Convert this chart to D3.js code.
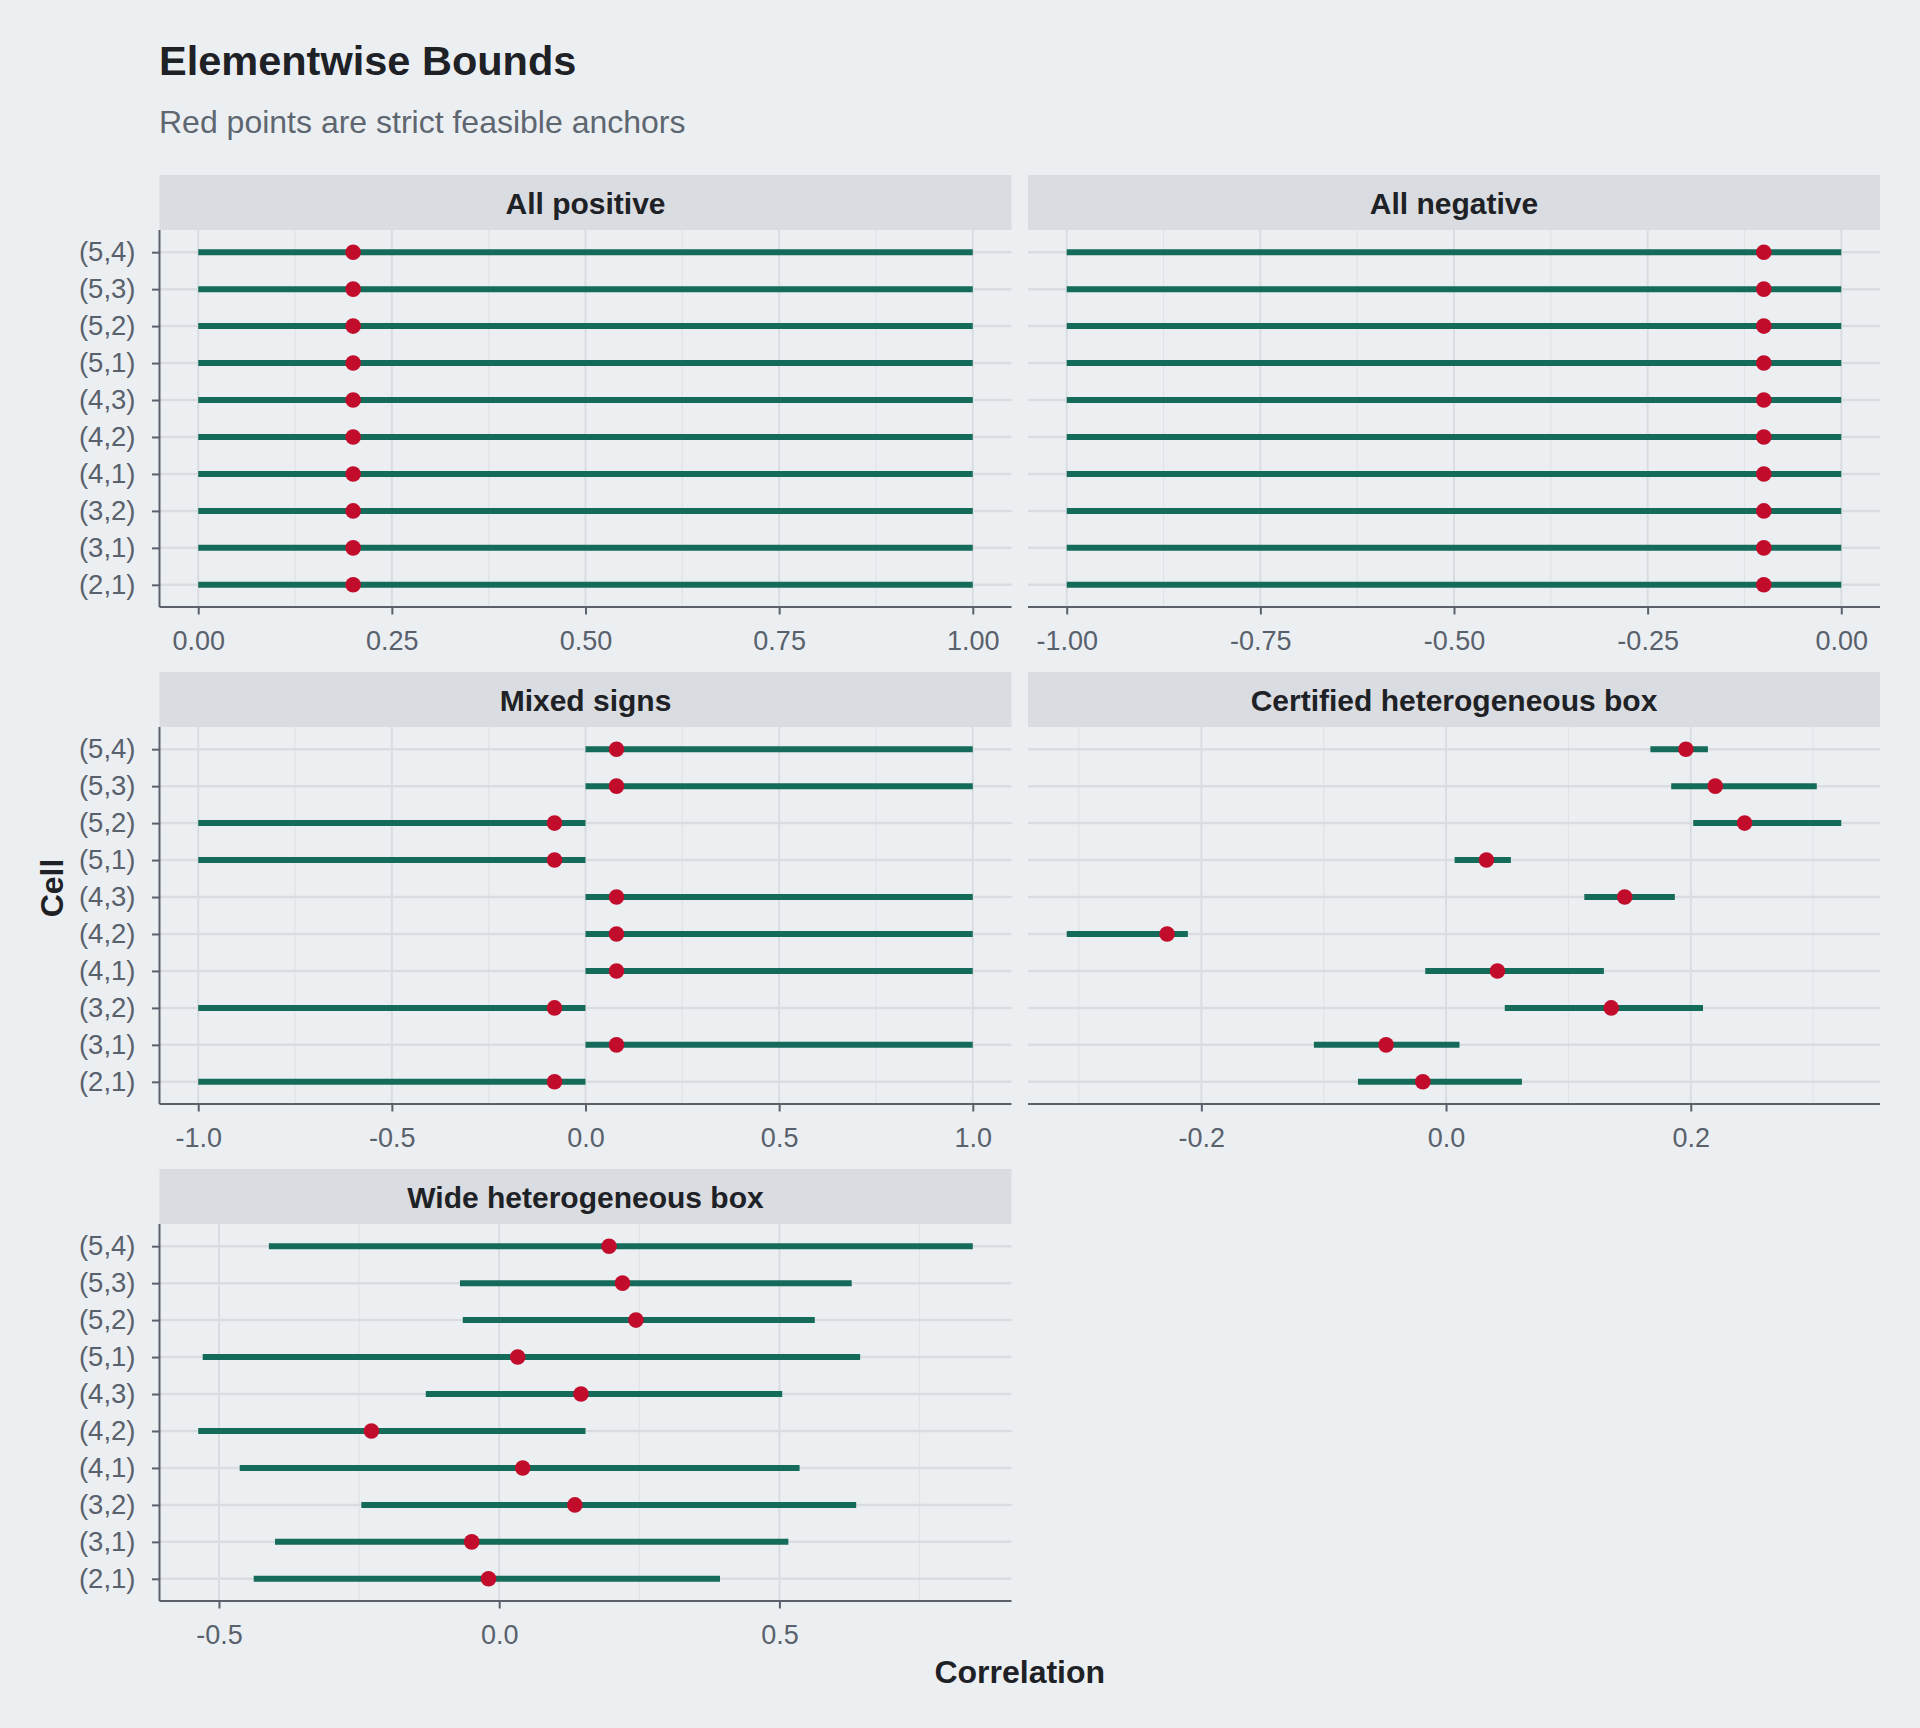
<!DOCTYPE html>
<html>
<head>
<meta charset="utf-8">
<script src="https://cdn.jsdelivr.net/npm/d3@7"></script>
<style>
  body { margin: 0; background: #ECEFF2; }
  svg { display: block; font-family: "Liberation Sans", Arial, Helvetica, sans-serif; }
</style>
</head>
<body>
<svg id="chart"></svg>
<script>
// cells, bottom to top
const cells = ["(2,1)", "(3,1)", "(3,2)", "(4,1)", "(4,2)", "(4,3)", "(5,1)", "(5,2)", "(5,3)", "(5,4)"];

const panelTitles = ["All positive", "All negative", "Mixed signs", "Certified heterogeneous box", "Wide heterogeneous box"];

// bounds per panel, same order as cells
const posLower = [0, 0, 0, 0, 0, 0, 0, 0, 0, 0];
const posUpper = [1, 1, 1, 1, 1, 1, 1, 1, 1, 1];
const posAnchor = [0.2, 0.2, 0.2, 0.2, 0.2, 0.2, 0.2, 0.2, 0.2, 0.2];

const negLower = [-1, -1, -1, -1, -1, -1, -1, -1, -1, -1];
const negUpper = [0, 0, 0, 0, 0, 0, 0, 0, 0, 0];
const negAnchor = [-0.1, -0.1, -0.1, -0.1, -0.1, -0.1, -0.1, -0.1, -0.1, -0.1];

const mixLower = [-1, 0, -1, 0, 0, 0, -1, -1, 0, 0];
const mixUpper = [0, 1, 0, 1, 1, 1, 0, 0, 1, 1];
const mixAnchor = [-0.08, 0.08, -0.08, 0.08, 0.08, 0.08, -0.08, -0.08, 0.08, 0.08];

const certLower = [-0.072, -0.108, 0.048, -0.017, -0.310, 0.113, 0.007, 0.202, 0.184, 0.167];
const certUpper = [0.062, 0.011, 0.210, 0.129, -0.211, 0.187, 0.053, 0.323, 0.303, 0.214];
const anchor = [-0.019, -0.049, 0.135, 0.042, -0.228, 0.146, 0.033, 0.244, 0.220, 0.196];

const wideLower = [-0.438, -0.400, -0.246, -0.463, -0.537, -0.131, -0.529, -0.065, -0.070, -0.411];
const wideUpper = [0.394, 0.516, 0.637, 0.536, 0.154, 0.505, 0.644, 0.563, 0.629, 0.845];

// tick labels per panel
const posTicks = [0, 0.25, 0.5, 0.75, 1];
const negTicks = [-1, -0.75, -0.5, -0.25, 0];
const mixTicks = [-1, -0.5, 0, 0.5, 1];
const certTicks = [-0.2, 0, 0.2];
const wideTicks = [-0.5, 0, 0.5];

const panels = [
  { title: panelTitles[0], lo: posLower, hi: posUpper, pt: posAnchor, ticks: posTicks, fmt: ".2f", col: 0, row: 0 },
  { title: panelTitles[1], lo: negLower, hi: negUpper, pt: negAnchor, ticks: negTicks, fmt: ".2f", col: 1, row: 0 },
  { title: panelTitles[2], lo: mixLower, hi: mixUpper, pt: mixAnchor, ticks: mixTicks, fmt: ".1f", col: 0, row: 1 },
  { title: panelTitles[3], lo: certLower, hi: certUpper, pt: anchor, ticks: certTicks, fmt: ".1f", col: 1, row: 1 },
  { title: panelTitles[4], lo: wideLower, hi: wideUpper, pt: anchor, ticks: wideTicks, fmt: ".1f", col: 0, row: 2 }
];

const W = 1920, H = 1728;
const colX = [159.5, 1028], panelW = 852;
const rowY = [175, 672, 1169], stripH = 55, panelH = 377;

const ink = "#1E2125", tickInk = "#59616C", axisInk = "#5A616B";
const green = "#156B5A", red = "#C10C2C";

const svg = d3.select("#chart").attr("width", W).attr("height", H);
svg.append("rect").attr("width", W).attr("height", H).attr("fill", "#ECEFF2");

svg.append("text").attr("x", 159).attr("y", 75)
  .attr("font-size", 41.5).attr("font-weight", "bold").attr("fill", ink)
  .text("Elementwise Bounds");
svg.append("text").attr("x", 159).attr("y", 132.5)
  .attr("font-size", 32).attr("fill", "#5E6670")
  .text("Red points are strict feasible anchors");

for (const p of panels) {
  const x0 = colX[p.col], top = rowY[p.row];
  const g = svg.append("g").attr("transform", `translate(${x0},${top})`);

  // strip
  g.append("rect").attr("width", panelW).attr("height", stripH).attr("fill", "#D9DCE0");
  g.append("text").attr("x", panelW / 2).attr("y", stripH / 2 + 11)
    .attr("text-anchor", "middle").attr("font-size", 30).attr("font-weight", "bold")
    .attr("fill", ink).text(p.title);

  const pg = g.append("g").attr("transform", `translate(0,${stripH})`);

  const lo = d3.min(p.lo), hi = d3.max(p.hi);
  const pad = (hi - lo) * 0.05;
  const x = d3.scaleLinear().domain([lo - pad, hi + pad]).range([0, panelW]);
  const y = d3.scalePoint().domain(cells.slice().reverse()).range([0, panelH]).padding(0.6);

  // grid: minor between major ticks
  const step = p.ticks[1] - p.ticks[0];
  const minor = [];
  for (let v = p.ticks[0] - step / 2; v <= x.domain()[1]; v += step)
    if (v >= x.domain()[0]) minor.push(v);
  pg.append("g").selectAll("line").data(minor).join("line")
    .attr("x1", d => x(d)).attr("x2", d => x(d)).attr("y1", 0).attr("y2", panelH)
    .attr("stroke", "#E0E3E6").attr("stroke-width", 1.2);
  pg.append("g").selectAll("line").data(p.ticks).join("line")
    .attr("x1", d => x(d)).attr("x2", d => x(d)).attr("y1", 0).attr("y2", panelH)
    .attr("stroke", "#D9DCE0").attr("stroke-width", 2);
  pg.append("g").selectAll("line").data(cells).join("line")
    .attr("x1", 0).attr("x2", panelW).attr("y1", d => y(d)).attr("y2", d => y(d))
    .attr("stroke", "#D9DCE0").attr("stroke-width", 2.5);

  const rows = cells.map((c, i) => ({ c, lo: p.lo[i], hi: p.hi[i], pt: p.pt[i] }));
  pg.append("g").selectAll("line").data(rows).join("line")
    .attr("x1", d => x(d.lo)).attr("x2", d => x(d.hi))
    .attr("y1", d => y(d.c)).attr("y2", d => y(d.c))
    .attr("stroke", green).attr("stroke-width", 6);
  pg.append("g").selectAll("circle").data(rows).join("circle")
    .attr("cx", d => x(d.pt)).attr("cy", d => y(d.c)).attr("r", 7.8)
    .attr("fill", red);

  // bottom axis
  const xa = pg.append("g").attr("transform", `translate(0,${panelH})`)
    .call(d3.axisBottom(x).tickValues(p.ticks).tickFormat(d3.format(p.fmt)).tickSize(7.5).tickPadding(16));
  xa.select(".domain").attr("stroke", axisInk).attr("stroke-width", 2).attr("d", `M0,0H${panelW}`);
  xa.selectAll(".tick line").attr("stroke", axisInk).attr("stroke-width", 2);
  xa.selectAll(".tick text").attr("fill", tickInk).attr("font-size", 27)
    .attr("font-family", "Liberation Sans, Arial, sans-serif")
    .text(function (d) { return d3.format(p.fmt)(d).replace("−", "-"); });

  // left axis only on the first column
  if (p.col === 0) {
    const ya = pg.append("g").call(d3.axisLeft(y).tickSize(7.5).tickPadding(16.5));
    ya.select(".domain").attr("stroke", axisInk).attr("stroke-width", 2).attr("d", `M0,0V${panelH}`);
    ya.selectAll(".tick line").attr("stroke", axisInk).attr("stroke-width", 2);
    ya.selectAll(".tick text").attr("fill", tickInk).attr("font-size", 27.5)
      .attr("font-family", "Liberation Sans, Arial, sans-serif");
  }
}

// axis titles
svg.append("text").attr("x", (colX[0] + colX[1] + panelW) / 2).attr("y", 1683)
  .attr("text-anchor", "middle").attr("font-size", 32).attr("font-weight", "bold")
  .attr("fill", ink).text("Correlation");
svg.append("text").attr("transform", `translate(63,${(rowY[0] + rowY[2] + stripH + panelH) / 2}) rotate(-90)`)
  .attr("text-anchor", "middle").attr("font-size", 32).attr("font-weight", "bold")
  .attr("fill", ink).text("Cell");
</script>
</body>
</html>
